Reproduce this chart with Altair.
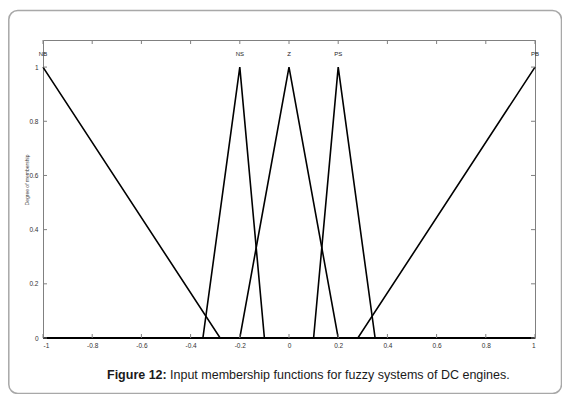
import altair as alt
import pandas as pd

# Membership functions (breakpoints)
mf_names = ["NB", "NS", "Z", "PS", "PB"]
mf_x = [
    [-1.0, -0.28, 1.0],
    [-1.0, -0.35, -0.2, -0.1, 1.0],
    [-1.0, -0.2, 0.0, 0.2, 1.0],
    [-1.0, 0.1, 0.2, 0.35, 1.0],
    [-1.0, 0.28, 1.0],
]
mf_y = [
    [1, 0, 0],
    [0, 0, 1, 0, 0],
    [0, 0, 1, 0, 0],
    [0, 0, 1, 0, 0],
    [0, 0, 1],
]
label_x = [-1.0, -0.2, 0.0, 0.2, 1.0]
label_y = [1.05, 1.05, 1.05, 1.05, 1.05]

x_ticks = [-1, -0.8, -0.6, -0.4, -0.2, 0, 0.2, 0.4, 0.6, 0.8, 1]
y_ticks = [0, 0.2, 0.4, 0.6, 0.8, 1]

y_title = "Degree of membership"
caption_bold = "Figure 12:"
caption_rest = "Input membership functions for fuzzy systems of DC engines."

W, H = 492, 298

rows = []
for name, xs, ys in zip(mf_names, mf_x, mf_y):
    for i, (xv, yv) in enumerate(zip(xs, ys)):
        rows.append({"mf": name, "x": xv, "y": yv, "o": i})
lines_df = pd.DataFrame(rows)
labels_df = pd.DataFrame({"mf": mf_names, "x": label_x, "y": label_y})
xt_df = pd.DataFrame({"t": x_ticks})
yt_df = pd.DataFrame({"t": y_ticks})
one = pd.DataFrame({"a": [0]})

xscale = alt.Scale(domain=[-1, 1], nice=False, zero=False)
yscale = alt.Scale(domain=[0, 1.1], nice=False, zero=False)
font = "Liberation Sans"

lab_expr = "replace(format(datum.value, '~g'), '\u2212', '-')"

lines = alt.Chart(lines_df).mark_line(color="black", strokeWidth=1.6).encode(
    x=alt.X("x:Q", scale=xscale,
            axis=alt.Axis(values=x_ticks, title=None, tickSize=0, domain=False, grid=False,
                          labelFontSize=6.5, labelColor="#333", labelFont=font, labelPadding=4,
                          labelExpr=lab_expr)),
    y=alt.Y("y:Q", scale=yscale,
            axis=alt.Axis(values=y_ticks, title=None, tickSize=0, domain=False, grid=False,
                          labelFontSize=6.5, labelColor="#333", labelFont=font, labelPadding=5,
                          labelExpr=lab_expr)),
    detail="mf:N",
    order="o:Q",
)

labels = alt.Chart(labels_df).mark_text(fontSize=6, font=font, color="#222", baseline="middle").encode(
    x=alt.X("x:Q", scale=xscale), y=alt.Y("y:Q", scale=yscale), text="mf:N"
)

tick_style = dict(color="#808080", strokeWidth=1)
xt_bottom = alt.Chart(xt_df).mark_rule(**tick_style).encode(
    x=alt.X("t:Q", scale=xscale), y=alt.value(H), y2=alt.value(H - 4))
xt_top = alt.Chart(xt_df).mark_rule(**tick_style).encode(
    x=alt.X("t:Q", scale=xscale), y=alt.value(0), y2=alt.value(4))
yt_left = alt.Chart(yt_df).mark_rule(**tick_style).encode(
    y=alt.Y("t:Q", scale=yscale), x=alt.value(0), x2=alt.value(4))
yt_right = alt.Chart(yt_df).mark_rule(**tick_style).encode(
    y=alt.Y("t:Q", scale=yscale), x=alt.value(W - 4), x2=alt.value(W))

ytitle = alt.Chart(one).mark_text(fontSize=5, font=font, color="#444", angle=270,
                                  align="center", baseline="middle").encode(
    x=alt.value(-16), y=alt.value(140), text=alt.value(y_title))

border = alt.Chart(one).mark_rect(fillOpacity=0, stroke="#a8a8a8", strokeWidth=1.5,
                                  cornerRadius=9).encode(
    x=alt.value(-34.2), x2=alt.value(518.5), y=alt.value(-29.5), y2=alt.value(353.5))

cap_x = 64
cap1 = alt.Chart(one).mark_text(fontSize=12.5, font=font, fontWeight="bold", color="#1a1a1a",
                                align="left", baseline="middle").encode(
    x=alt.value(cap_x), y=alt.value(335), text=alt.value(caption_bold))
cap2 = alt.Chart(one).mark_text(fontSize=12.5, font=font, color="#1a1a1a",
                                align="left", baseline="middle").encode(
    x=alt.value(cap_x + 63), y=alt.value(335), text=alt.value(caption_rest))

chart = alt.layer(border, lines, labels, xt_bottom, xt_top, yt_left, yt_right, ytitle, cap1, cap2).properties(
    width=W, height=H,
    autosize=alt.AutoSizeParams(type="none"),
    padding={"left": 35, "top": 32, "right": 27, "bottom": 56},
    background="white",
).configure_view(stroke="#808080", strokeWidth=1)

chart.save("out.html", embed_options={"renderer": "svg", "actions": False})
